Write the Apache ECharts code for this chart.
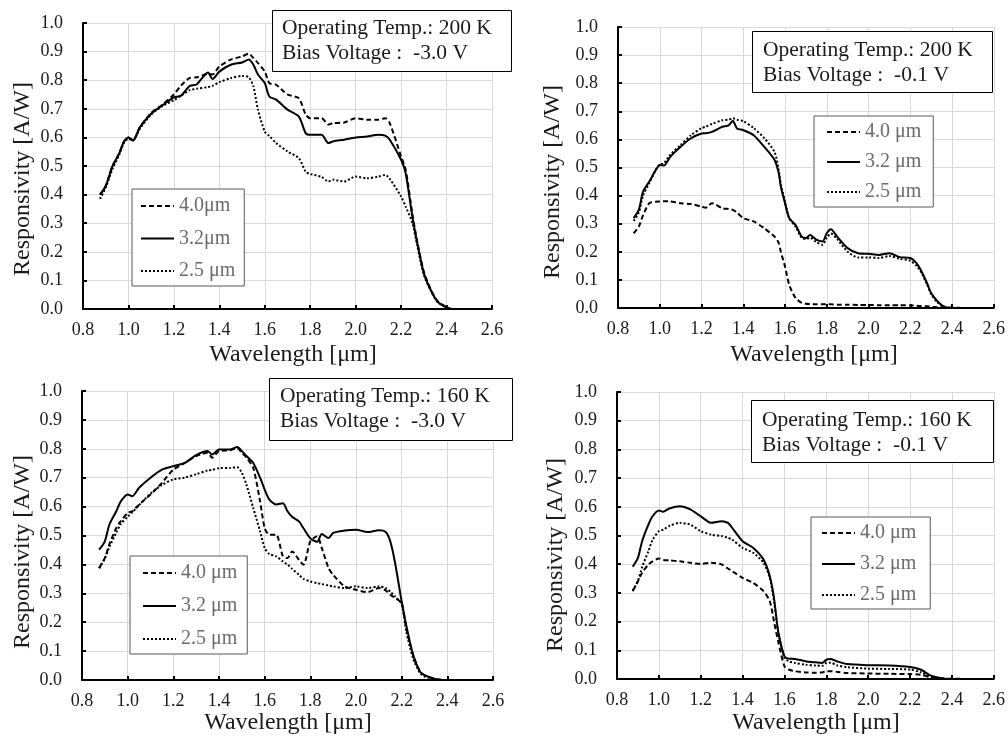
<!DOCTYPE html>
<html>
<head>
<meta charset="utf-8">
<script src="https://cdn.jsdelivr.net/npm/echarts@6/dist/echarts.min.js"></script>
<style>
  html, body { margin: 0; padding: 0; background: #fff; }
  #chart { width: 1008px; height: 738px; }
</style>
</head>
<body>
<div id="chart"></div>
<script>
// Spectral responsivity [A/W] vs wavelength [µm] for three cut-off wavelengths.

// 200 K, -3.0 V
const wl200_30 = [0.875, 0.9, 0.93, 0.96, 0.98, 1.0, 1.02, 1.05, 1.1, 1.15, 1.2, 1.23, 1.27, 1.3, 1.35, 1.37, 1.4, 1.45, 1.5, 1.53, 1.55, 1.57, 1.6, 1.62, 1.65, 1.7, 1.75, 1.78, 1.8, 1.85, 1.88, 1.9, 1.95, 2.0, 2.05, 2.1, 2.13, 2.15, 2.2, 2.22, 2.25, 2.27, 2.3, 2.33, 2.36, 2.4, 2.42];
const r200_30_40 = [0.40, 0.43, 0.50, 0.545, 0.585, 0.60, 0.59, 0.635, 0.685, 0.715, 0.75, 0.78, 0.808, 0.81, 0.822, 0.82, 0.848, 0.872, 0.883, 0.893, 0.877, 0.86, 0.83, 0.79, 0.784, 0.75, 0.737, 0.68, 0.667, 0.667, 0.645, 0.65, 0.652, 0.667, 0.662, 0.662, 0.667, 0.65, 0.533, 0.487, 0.33, 0.24, 0.13, 0.07, 0.028, 0.006, 0.0];
const r200_30_32 = [0.40, 0.43, 0.50, 0.545, 0.585, 0.60, 0.588, 0.635, 0.683, 0.712, 0.74, 0.745, 0.78, 0.785, 0.827, 0.804, 0.83, 0.854, 0.862, 0.872, 0.854, 0.82, 0.79, 0.743, 0.732, 0.697, 0.673, 0.615, 0.609, 0.609, 0.58, 0.586, 0.592, 0.60, 0.603, 0.609, 0.606, 0.592, 0.522, 0.475, 0.32, 0.235, 0.125, 0.067, 0.026, 0.005, 0.0];
const r200_30_25 = [0.385, 0.425, 0.49, 0.54, 0.58, 0.595, 0.59, 0.63, 0.68, 0.71, 0.73, 0.745, 0.765, 0.77, 0.776, 0.78, 0.793, 0.807, 0.815, 0.81, 0.778, 0.697, 0.62, 0.605, 0.58, 0.551, 0.527, 0.48, 0.472, 0.462, 0.446, 0.452, 0.446, 0.463, 0.457, 0.463, 0.469, 0.455, 0.393, 0.358, 0.30, 0.225, 0.12, 0.065, 0.025, 0.005, 0.0];

// 200 K, -0.1 V
const wl200_01 = [0.875, 0.9, 0.92, 0.95, 0.98, 1.0, 1.02, 1.05, 1.1, 1.15, 1.2, 1.22, 1.25, 1.3, 1.33, 1.35, 1.37, 1.4, 1.45, 1.5, 1.55, 1.57, 1.58, 1.6, 1.62, 1.65, 1.68, 1.7, 1.72, 1.75, 1.78, 1.8, 1.82, 1.85, 1.9, 1.95, 2.0, 2.05, 2.1, 2.15, 2.2, 2.23, 2.25, 2.28, 2.3, 2.33, 2.36, 2.4, 2.48];
const r200_01_40 = [0.266, 0.29, 0.33, 0.373, 0.378, 0.379, 0.38, 0.379, 0.373, 0.37, 0.361, 0.357, 0.373, 0.355, 0.352, 0.349, 0.34, 0.32, 0.308, 0.284, 0.254, 0.231, 0.20, 0.148, 0.083, 0.036, 0.018, 0.015, 0.014, 0.013, 0.013, 0.013, 0.013, 0.012, 0.012, 0.011, 0.011, 0.01, 0.01, 0.01, 0.009, 0.008, 0.007, 0.006, 0.004, 0.003, 0.002, 0.001, 0.0];
const r200_01_32 = [0.32, 0.35, 0.414, 0.45, 0.49, 0.509, 0.507, 0.538, 0.574, 0.604, 0.621, 0.622, 0.627, 0.645, 0.65, 0.666, 0.639, 0.633, 0.615, 0.574, 0.527, 0.48, 0.432, 0.373, 0.32, 0.296, 0.254, 0.249, 0.26, 0.243, 0.237, 0.266, 0.28, 0.254, 0.213, 0.195, 0.193, 0.189, 0.195, 0.181, 0.178, 0.16, 0.136, 0.089, 0.053, 0.024, 0.006, 0.0, 0.0];
const r200_01_25 = [0.31, 0.34, 0.40, 0.445, 0.49, 0.51, 0.515, 0.545, 0.58, 0.615, 0.64, 0.645, 0.655, 0.668, 0.67, 0.675, 0.67, 0.665, 0.64, 0.605, 0.555, 0.49, 0.44, 0.38, 0.32, 0.29, 0.25, 0.245, 0.25, 0.235, 0.225, 0.25, 0.265, 0.245, 0.2, 0.18, 0.18, 0.178, 0.185, 0.175, 0.168, 0.15, 0.13, 0.085, 0.05, 0.02, 0.005, 0.0, 0.0];

// 160 K, -3.0 V
const wl160_30 = [0.875, 0.9, 0.92, 0.95, 0.97, 1.0, 1.02, 1.05, 1.1, 1.15, 1.2, 1.25, 1.3, 1.35, 1.37, 1.4, 1.45, 1.48, 1.5, 1.52, 1.55, 1.58, 1.6, 1.62, 1.65, 1.68, 1.7, 1.72, 1.75, 1.77, 1.8, 1.83, 1.85, 1.88, 1.9, 1.95, 2.0, 2.05, 2.1, 2.13, 2.15, 2.17, 2.2, 2.22, 2.25, 2.28, 2.3, 2.35, 2.4, 2.48];
const r160_30_40 = [0.387, 0.422, 0.47, 0.526, 0.55, 0.578, 0.584, 0.607, 0.642, 0.682, 0.728, 0.751, 0.775, 0.786, 0.769, 0.792, 0.795, 0.803, 0.786, 0.77, 0.734, 0.618, 0.526, 0.503, 0.503, 0.428, 0.422, 0.445, 0.416, 0.399, 0.48, 0.497, 0.457, 0.387, 0.364, 0.324, 0.312, 0.304, 0.318, 0.31, 0.295, 0.285, 0.266, 0.179, 0.087, 0.03, 0.017, 0.003, 0.0, 0.0];
const r160_30_32 = [0.451, 0.48, 0.538, 0.584, 0.618, 0.642, 0.636, 0.665, 0.70, 0.728, 0.74, 0.751, 0.778, 0.792, 0.78, 0.798, 0.798, 0.806, 0.792, 0.775, 0.751, 0.70, 0.659, 0.625, 0.607, 0.612, 0.584, 0.565, 0.549, 0.525, 0.49, 0.478, 0.505, 0.491, 0.509, 0.517, 0.52, 0.512, 0.518, 0.512, 0.48, 0.41, 0.272, 0.19, 0.087, 0.029, 0.017, 0.003, 0.0, 0.0];
const r160_30_25 = [0.387, 0.42, 0.46, 0.51, 0.54, 0.565, 0.58, 0.605, 0.645, 0.675, 0.694, 0.70, 0.712, 0.725, 0.727, 0.733, 0.734, 0.736, 0.717, 0.676, 0.595, 0.514, 0.457, 0.436, 0.428, 0.41, 0.399, 0.385, 0.364, 0.35, 0.341, 0.335, 0.332, 0.327, 0.324, 0.318, 0.324, 0.318, 0.324, 0.318, 0.306, 0.29, 0.262, 0.168, 0.075, 0.025, 0.012, 0.002, 0.0, 0.0];

// 160 K, -0.1 V
const wl160_01 = [0.875, 0.9, 0.92, 0.95, 0.97, 1.0, 1.02, 1.05, 1.1, 1.15, 1.2, 1.25, 1.3, 1.33, 1.35, 1.4, 1.45, 1.5, 1.53, 1.55, 1.57, 1.6, 1.62, 1.65, 1.7, 1.75, 1.78, 1.8, 1.82, 1.85, 1.9, 2.0, 2.1, 2.2, 2.25, 2.3, 2.35, 2.4, 2.48];
const r160_01_40 = [0.306, 0.341, 0.37, 0.399, 0.41, 0.42, 0.415, 0.413, 0.41, 0.405, 0.401, 0.405, 0.399, 0.385, 0.376, 0.352, 0.335, 0.306, 0.271, 0.201, 0.131, 0.044, 0.033, 0.027, 0.023, 0.022, 0.023, 0.027, 0.027, 0.025, 0.021, 0.019, 0.018, 0.017, 0.015, 0.006, 0.002, 0.001, 0.0];
const r160_01_32 = [0.391, 0.422, 0.48, 0.538, 0.567, 0.587, 0.583, 0.594, 0.602, 0.591, 0.567, 0.544, 0.55, 0.544, 0.527, 0.48, 0.457, 0.416, 0.358, 0.283, 0.166, 0.079, 0.071, 0.07, 0.062, 0.058, 0.056, 0.067, 0.07, 0.062, 0.052, 0.048, 0.047, 0.042, 0.033, 0.012, 0.003, 0.0, 0.0];
const r160_01_25 = [0.308, 0.341, 0.39, 0.445, 0.485, 0.515, 0.52, 0.533, 0.544, 0.538, 0.515, 0.503, 0.498, 0.492, 0.486, 0.457, 0.44, 0.405, 0.352, 0.271, 0.166, 0.073, 0.062, 0.056, 0.05, 0.047, 0.046, 0.056, 0.057, 0.048, 0.041, 0.036, 0.035, 0.033, 0.024, 0.009, 0.002, 0.0, 0.0];

// Legend labels and condition captions
const names1 = ['4.0\u03bcm', '3.2\u03bcm', '2.5 \u03bcm'];
const namesN = ['4.0 \u03bcm', '3.2 \u03bcm', '2.5 \u03bcm'];
const captions = [
  ['Operating Temp.: 200 K', 'Bias Voltage :  -3.0 V'],
  ['Operating Temp.: 200 K', 'Bias Voltage :  -0.1 V'],
  ['Operating Temp.: 160 K', 'Bias Voltage :  -3.0 V'],
  ['Operating Temp.: 160 K', 'Bias Voltage :  -0.1 V']
];

const FONT = '"Liberation Serif", "Times New Roman", serif';
const INK = '#1a1a1a';
const dashes = [[5, 3], 'solid', [2, 2]];

const panels = [
  { grid: { left: 83, top: 23, width: 409, height: 286 }, wl: wl200_30, ys: [r200_30_40, r200_30_32, r200_30_25], names: names1,
    legend: { left: 132, top: 189, itemGap: 10.5, padding: [6, 9, 4, 8] },
    box: { x: 272, y: 10, w: 239, h: 61, tx: 282, ty: 28 },
    xt: { x: 293, y: 355 }, yt: { x: 23, y: 179 } },
  { grid: { left: 618, top: 27, width: 380, height: 281 }, wl: wl200_01, ys: [r200_01_40, r200_01_32, r200_01_25], names: namesN,
    legend: { left: 814, top: 116, itemGap: 8, padding: [5, 12, 4, 12] },
    box: { x: 752, y: 31, w: 240, h: 61, tx: 763, ty: 50 },
    xt: { x: 814, y: 355 }, yt: { x: 553, y: 182 } },
  { grid: { left: 82, top: 391, width: 411, height: 289 }, wl: wl160_30, ys: [r160_30_40, r160_30_32, r160_30_25], names: namesN,
    legend: { left: 130, top: 556, itemGap: 11, padding: [6, 10, 4, 12] },
    box: { x: 269, y: 378, w: 243, h: 62, tx: 280, ty: 396 },
    xt: { x: 288, y: 723 }, yt: { x: 23, y: 552 } },
  { grid: { left: 617, top: 392, width: 380, height: 287 }, wl: wl160_01, ys: [r160_01_40, r160_01_32, r160_01_25], names: namesN,
    legend: { left: 811, top: 517, itemGap: 9, padding: [5, 14, 3, 10] },
    box: { x: 751, y: 400, w: 242, h: 62, tx: 762, ty: 420 },
    xt: { x: 816, y: 723 }, yt: { x: 556, y: 555 } }
];

const grids = [], xAxes = [], yAxes = [], series = [], legends = [], graphics = [];

panels.forEach((p, gi) => {
  grids.push(Object.assign({ containLabel: false }, p.grid));
  xAxes.push({
    type: 'value', gridIndex: gi, min: 0.8, max: 2.6, interval: 0.2,
    axisLine: { show: true, onZero: false, lineStyle: { color: '#000', width: 2 } },
    axisTick: { show: true, inside: true, length: 4, lineStyle: { color: '#000', width: 2 } },
    splitLine: { show: true, lineStyle: { color: '#d9d9d9', width: 1 } },
    axisLabel: { margin: 12, color: INK, fontFamily: FONT, fontSize: 18, formatter: v => v.toFixed(1) }
  });
  yAxes.push({
    type: 'value', gridIndex: gi, min: 0, max: 1, interval: 0.1,
    axisLine: { show: true, onZero: false, lineStyle: { color: '#000', width: 2 } },
    axisTick: { show: true, inside: true, length: 4, lineStyle: { color: '#000', width: 2 } },
    splitLine: { show: true, lineStyle: { color: '#d9d9d9', width: 1 } },
    axisLabel: { margin: 20, color: INK, fontFamily: FONT, fontSize: 18, formatter: v => v.toFixed(1) }
  });
  p.ys.forEach((ys, si) => {
    series.push({
      type: 'line', name: p.names[si], xAxisIndex: gi, yAxisIndex: gi,
      data: p.wl.map((x, i) => [x, ys[i]]),
      showSymbol: false, symbol: 'none', smooth: 0.25,
      lineStyle: { color: '#000', width: 2, type: dashes[si] },
      itemStyle: { color: '#000' },
      emphasis: { disabled: true }
    });
  });
  legends.push(Object.assign({
    orient: 'vertical', data: p.names.slice(), selectedMode: false,
    itemWidth: 33, itemHeight: 14, backgroundColor: '#fff',
    borderColor: '#595959', borderWidth: 1, borderRadius: 0, z: 20,
    // keep only the line sample in each legend entry
    itemStyle: { opacity: 0, color: 'rgba(0,0,0,0)', borderWidth: 0 },
    textStyle: { fontFamily: FONT, fontSize: 20, color: '#6b6b6b', lineHeight: 22 }
  }, p.legend));

  const b = p.box;
  graphics.push({
    type: 'rect', z: 100, shape: { x: b.x + 0.5, y: b.y + 0.5, width: b.w, height: b.h },
    style: { fill: '#fff', stroke: '#000', lineWidth: 1 }
  });
  captions[gi].forEach((line, li) => {
    graphics.push({
      type: 'text', z: 101, x: b.tx, y: b.ty + li * 25.5,
      style: { text: line, fontFamily: FONT, fontSize: 21.5, fill: INK, align: 'left', verticalAlign: 'middle' }
    });
  });
  graphics.push({
    type: 'text', z: 101, x: p.xt.x, y: p.xt.y,
    style: { text: 'Wavelength [\u03bcm]', fontFamily: FONT, fontSize: 24, fill: INK, align: 'center', verticalAlign: 'middle' }
  });
  graphics.push({
    type: 'text', z: 101, x: p.yt.x, y: p.yt.y, rotation: Math.PI / 2,
    style: { text: 'Responsivity [A/W]', fontFamily: FONT, fontSize: 24, fill: INK, align: 'center', verticalAlign: 'middle' }
  });
});

const chart = echarts.init(document.getElementById('chart'), null, { renderer: 'canvas' });
chart.setOption({
  animation: false,
  backgroundColor: '#fff',
  grid: grids,
  xAxis: xAxes,
  yAxis: yAxes,
  legend: legends,
  series: series,
  graphic: graphics
});
</script>
</body>
</html>
